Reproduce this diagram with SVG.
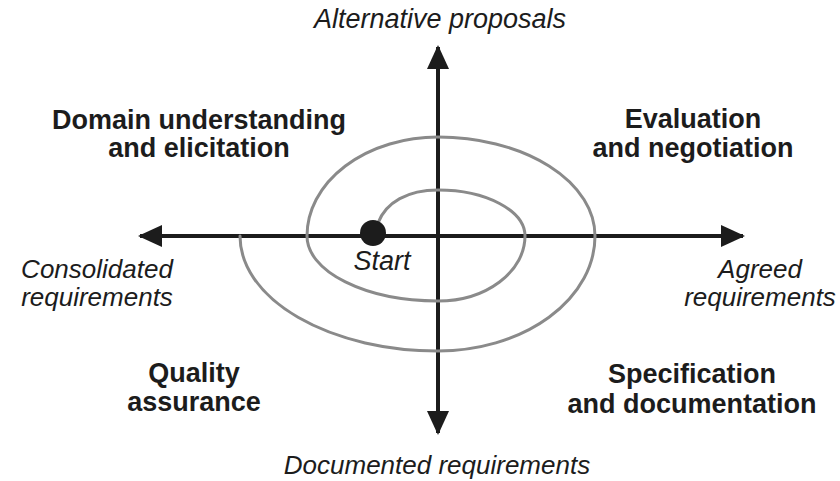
<svg xmlns="http://www.w3.org/2000/svg" width="840" height="481" viewBox="0 0 840 481">
<style>
.bg{fill:#ffffff}
.ph{font-family:"Liberation Sans",Arial,sans-serif;font-weight:bold;font-size:27px;fill:#1c1c1c;text-anchor:middle}
.it{font-family:"Liberation Sans",Arial,sans-serif;font-style:italic;font-size:27px;fill:#1c1c1c;text-anchor:middle}
.it2{font-family:"Liberation Sans",Arial,sans-serif;font-style:italic;font-size:26px;fill:#1c1c1c;text-anchor:middle}
.axis{stroke:#1c1c1c;stroke-width:4;fill:none}
.spiral{stroke:#8a8a8a;stroke-width:3;fill:none;stroke-linecap:round}
</style>
<defs>
<marker id="arr" viewBox="0 0 24 22" refX="22" refY="11" markerWidth="24" markerHeight="22" markerUnits="userSpaceOnUse" orient="auto">
<path d="M0,0 L24,11 L0,22 Z" fill="#1c1c1c"/>
</marker>
</defs>
<rect class="bg" x="0" y="0" width="840" height="481"/>
<g id="connectors">
<line class="axis" x1="438" y1="236" x2="140" y2="236" marker-end="url(#arr)"/>
<line class="axis" x1="438" y1="236" x2="743" y2="236" marker-end="url(#arr)"/>
<line class="axis" x1="438" y1="236" x2="438" y2="47" marker-end="url(#arr)"/>
<line class="axis" x1="438" y1="236" x2="438" y2="433" marker-end="url(#arr)"/>
</g>
<g id="spiral">
<path class="spiral" d="M 378 223 C 386 202, 408 190, 438 190 A 87 46 0 0 1 525 236 A 87 65 0 0 1 438 301 A 131 65 0 0 1 307 236 A 131 99 0 0 1 438 137 A 157 99 0 0 1 595 236 A 157 115 0 0 1 438 351 A 198 115 0 0 1 240 236"/>
</g>
<g id="start">
<circle cx="373" cy="233" r="13" fill="#1c1c1c"/>
<text class="it" x="382" y="270">Start</text>
</g>
<g id="domain-understanding">
<text class="ph" x="199" y="129">Domain understanding</text>
<text class="ph" x="199" y="157">and elicitation</text>
</g>
<g id="evaluation-negotiation">
<text class="ph" x="693" y="128">Evaluation</text>
<text class="ph" x="693" y="157">and negotiation</text>
</g>
<g id="specification-documentation">
<text class="ph" x="692" y="383">Specification</text>
<text class="ph" x="692" y="413">and documentation</text>
</g>
<g id="quality-assurance">
<text class="ph" x="194" y="382">Quality</text>
<text class="ph" x="194" y="411">assurance</text>
</g>
<g id="alternative-proposals">
<text class="it" x="440" y="28">Alternative proposals</text>
</g>
<g id="agreed-requirements">
<text class="it2" x="760" y="278">Agreed</text>
<text class="it2" x="760" y="306">requirements</text>
</g>
<g id="consolidated-requirements">
<text class="it2" x="97" y="278">Consolidated</text>
<text class="it2" x="97" y="306">requirements</text>
</g>
<g id="documented-requirements">
<text class="it2" x="437" y="474">Documented requirements</text>
</g>
</svg>
